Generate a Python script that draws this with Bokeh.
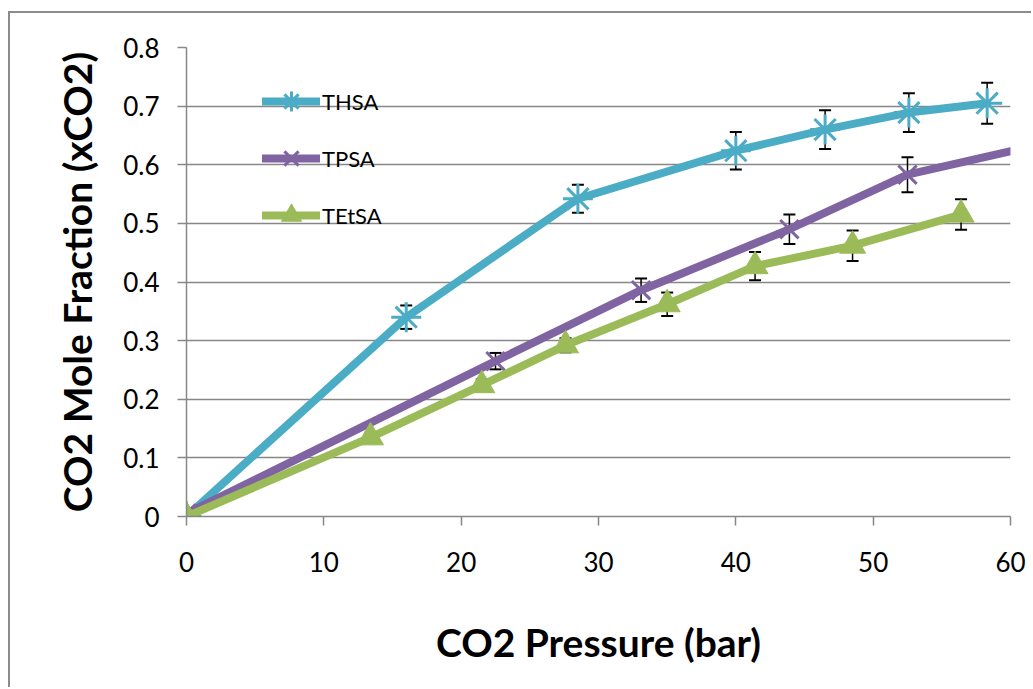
from bokeh.plotting import figure
from bokeh.models import (Range1d, FixedTicker, ColumnDataSource, Whisker, TeeHead,
                          Legend, LegendItem)
from bokeh.embed import file_html
from bokeh.resources import INLINE

# Axis ticks
pressure_ticks = [0, 10, 20, 30, 40, 50, 60]
fraction_ticks = [0.0, 0.1, 0.2, 0.3, 0.4, 0.5, 0.6, 0.7, 0.8]
fraction_tick_labels = ["0", "0.1", "0.2", "0.3", "0.4", "0.5", "0.6", "0.7", "0.8"]

# CO2 solubility data: pressure (bar), mole fraction, error
thsa_p = [0.0, 16.0, 28.5, 40.0, 46.5, 52.6, 58.3]
thsa_x = [0.0, 0.340, 0.542, 0.624, 0.660, 0.689, 0.705]
thsa_err = [0.0, 0.020, 0.024, 0.032, 0.033, 0.033, 0.035]

tpsa_p = [0.0, 22.5, 33.1, 43.9, 52.5, 66.0]
tpsa_x = [0.005, 0.265, 0.386, 0.490, 0.583, 0.655]
tpsa_err = [0.0, 0.014, 0.020, 0.025, 0.030, 0.0]

tetsa_p = [0.0, 13.4, 21.5, 27.6, 35.0, 41.4, 48.5, 56.4]
tetsa_x = [0.0, 0.135, 0.224, 0.292, 0.362, 0.427, 0.462, 0.515]
tetsa_err = [0.0, 0.008, 0.010, 0.012, 0.020, 0.024, 0.026, 0.026]

CYAN = "#4BACC6"
PURPLE = "#8064A2"
GREEN = "#9BBB59"
GRID = "#878787"
FONT = "Lato"

p = figure(width=1023, height=676,
           x_range=Range1d(0, 60), y_range=Range1d(0, 0.8),
           output_backend="svg", toolbar_location=None,
           min_border_left=176, min_border_right=23,
           min_border_top=34, min_border_bottom=173)
# gray chart-area border on the top and left edges
p.margin = (11, 0, 0, 8)
p.styles = {"border-left": "2px solid #8c8c8c", "border-top": "2px solid #8c8c8c"}
p.background_fill_color = "white"
p.border_fill_color = "white"
p.outline_line_color = None

p.xgrid.grid_line_color = None
p.ygrid.grid_line_color = GRID
p.ygrid.grid_line_width = 1.5
p.ygrid.ticker = FixedTicker(ticks=fraction_ticks)

p.xaxis.ticker = FixedTicker(ticks=pressure_ticks)
p.yaxis.ticker = FixedTicker(ticks=fraction_ticks)
p.yaxis.major_label_overrides = {t: s for t, s in zip(fraction_ticks, fraction_tick_labels)}

for ax in (p.xaxis, p.yaxis):
    ax.axis_line_color = GRID
    ax.axis_line_width = 1.5
    ax.major_tick_line_color = GRID
    ax.major_tick_line_width = 1.5
    ax.major_tick_in = 0
    ax.major_tick_out = 9
    ax.minor_tick_line_color = None
    ax.major_label_text_font = FONT
    ax.major_label_text_font_size = "26px"
    ax.major_label_text_color = "black"
    ax.axis_label_text_font = FONT
    ax.axis_label_text_font_size = "39px"
    ax.axis_label_text_font_style = "bold"
    ax.axis_label_text_color = "black"

p.xaxis.axis_label = "CO2 Pressure (bar)"
p.yaxis.axis_label = "CO2 Mole Fraction (xCO2)"
p.xaxis.major_label_standoff = 26
p.yaxis.major_label_standoff = 18
p.xaxis.axis_label_standoff = 44
p.yaxis.axis_label_standoff = 20


def draw_series(ps, xs, errs, color, marker, size, lw):
    line = p.line(ps, xs, line_color=color, line_width=8,
                  line_join="round", line_cap="round")
    if marker == "triangle":
        pts = p.scatter(ps, xs, marker=marker, size=size,
                        fill_color=color, line_color=color, line_width=1)
    else:
        pts = p.scatter(ps, xs, marker=marker, size=size,
                        line_color=color, line_width=lw, fill_color=None)
    base = [a for a, e in zip(ps, errs) if e > 0 and a <= 60]
    lo = [b - e for a, b, e in zip(ps, xs, errs) if e > 0 and a <= 60]
    hi = [b + e for a, b, e in zip(ps, xs, errs) if e > 0 and a <= 60]
    src = ColumnDataSource(dict(base=base, lower=lo, upper=hi))
    w = Whisker(base="base", lower="lower", upper="upper", source=src,
                line_color="black", line_width=1.5,
                upper_head=TeeHead(size=12, line_color="black", line_width=2),
                lower_head=TeeHead(size=12, line_color="black", line_width=2))
    p.add_layout(w)
    return line, pts


thsa_line, thsa_pts = draw_series(thsa_p, thsa_x, thsa_err, CYAN, "asterisk", 30, 3)
tpsa_line, tpsa_pts = draw_series(tpsa_p, tpsa_x, tpsa_err, PURPLE, "x", 26, 3)
tetsa_line, tetsa_pts = draw_series(tetsa_p, tetsa_x, tetsa_err, GREEN, "triangle", 26, 1)

legend = Legend(items=[
    LegendItem(label="THSA", renderers=[thsa_line, thsa_pts]),
    LegendItem(label="TPSA", renderers=[tpsa_line, tpsa_pts]),
    LegendItem(label="TEtSA", renderers=[tetsa_line, tetsa_pts]),
], location=(76, 276))
legend.glyph_width = 58
legend.glyph_height = 50
legend.label_height = 20
legend.spacing = 7
legend.padding = 0
legend.margin = 0
legend.label_standoff = 2
legend.border_line_color = None
legend.background_fill_alpha = 0
legend.label_text_font = FONT
legend.label_text_font_size = "22px"
legend.label_text_color = "black"
p.add_layout(legend)

open("out.html", "w").write(file_html(p, INLINE))
